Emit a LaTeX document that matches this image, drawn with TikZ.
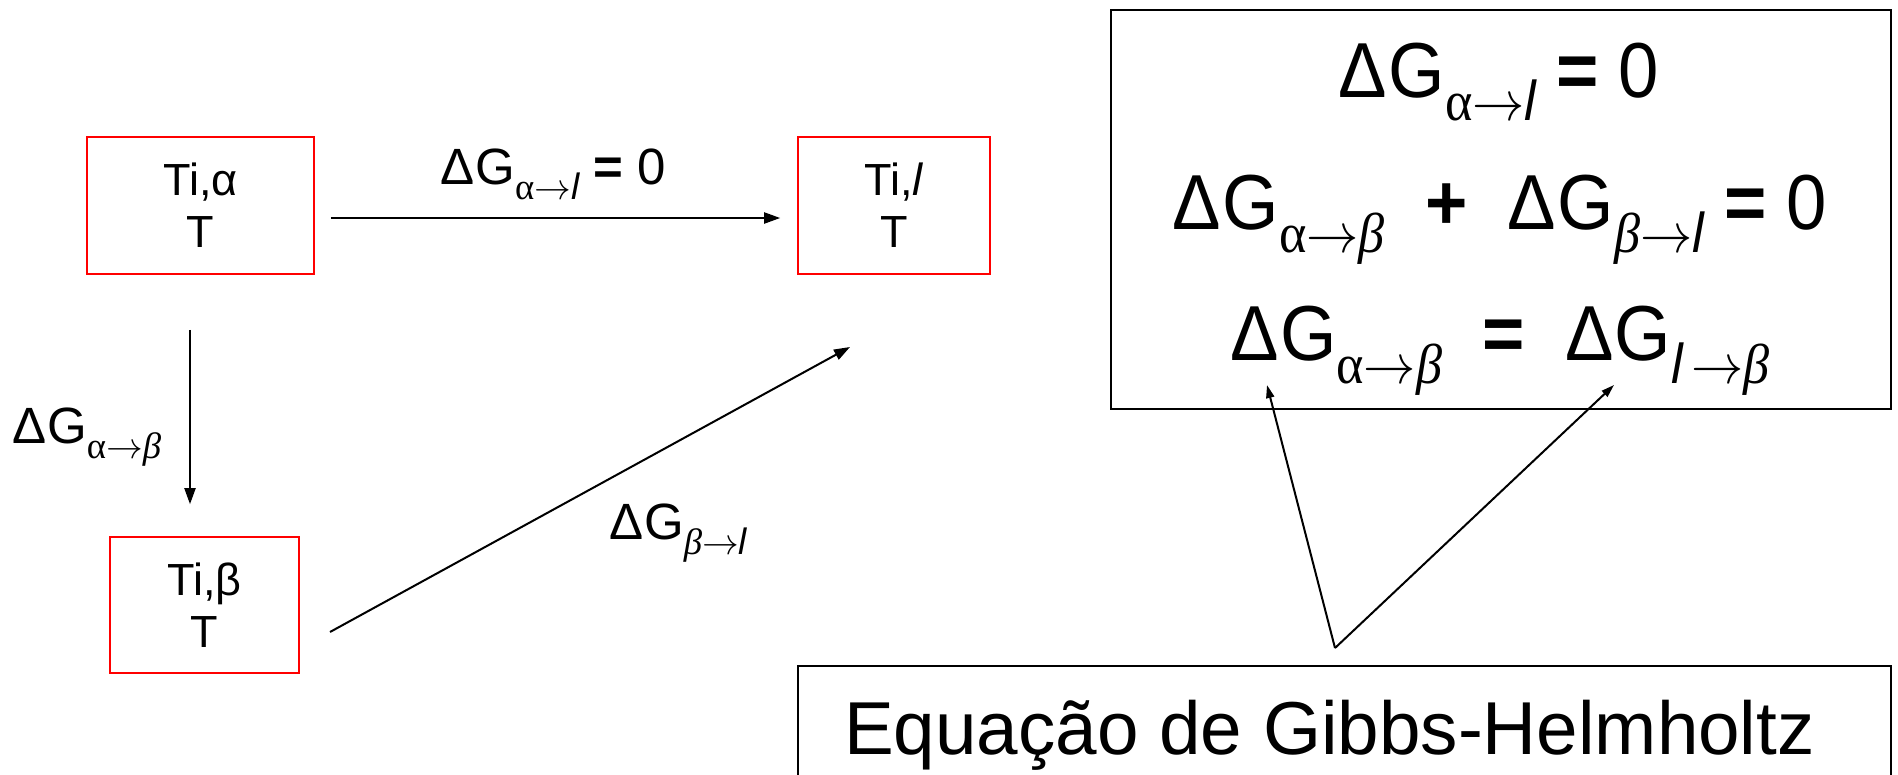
\RequirePackage{fix-cm}
\documentclass[tikz,border=0pt]{standalone}
\usepackage{fontspec}
\setmainfont{Liberation Sans}
\newfontfamily\srf{Liberation Serif}
\usetikzlibrary{arrows.meta,calc}
\newcommand\sA{{\srf α}}
\newcommand\sR{\ensuremath{\rightarrow}}
\newcommand\sB{{\srf\itshape β}}
\newcommand\sL{{\itshape l}}
\newcommand\dG[2]{Δ\kern0.02em G\raisebox{-0.3\dimexpr#1pt\relax}{\fontsize{\fpeval{0.72*#1}}{\fpeval{0.8*#1}}\selectfont #2}}
\newcommand\beq{\textbf{=}}
\newcommand\bplus{\textbf{+}}
\newcommand\cond[1]{\scalebox{0.93}[1]{#1}}
\tikzset{
  redbox/.style={draw={rgb,255:red,255;green,0;blue,0}, line width=1.6pt, align=center, inner sep=0pt,
    font=\fontsize{45}{52}\selectfont},
  conn/.style={line width=2pt, -{Triangle[length=16pt,width=11pt]}},
  gibbsarr/.style={line width=2pt, -{Triangle[length=13pt,width=8pt]}},
  lbl/.style={font=\fontsize{51}{58}\selectfont, inner sep=0pt},
  eq/.style={font=\fontsize{78}{88}\selectfont, inner sep=0pt, anchor=base},
  blackbox/.style={draw, line width=2pt},
}
\begin{document}
\begin{tikzpicture}[x=1pt,y=-1pt]
\clip (0,0) rectangle (1898,774);
\useasboundingbox (0,0) rectangle (1898,774);
% state boxes
\node[redbox, minimum width=227pt, minimum height=137pt] (a) at (200.5,205.5) {Ti,α\\T};
\node[redbox, minimum width=192pt, minimum height=137pt] (l) at (894,205.5) {Ti,\textit{l}\\T};
\node[redbox, minimum width=189pt, minimum height=136pt] (b) at (204.5,605) {Ti,β\\T};
% connectors
\draw[conn, shorten <=16pt, shorten >=17pt] ($(a.east)+(0,12.5)$) -- ($(l.west)+(0,12.5)$);
\draw[conn, shorten <=55pt, shorten >=32pt] ($(a.south)+(-10.5,0)$) -- ($(a.south |- b.north)+(-10.5,0)$);
\coordinate (d1) at (330,632);
\coordinate (d2) at (850,347);
\draw[conn] (d1) -- (d2);
% labels
\node[lbl, anchor=base] (lh) at (553,184) {\dG{51}{\sA\sR\sL} \beq{} 0};
\node[lbl, anchor=base west] (lv) at (12,443) {\dG{51}{\sA\sR\sB}};
\node[lbl, anchor=base west] (ld) at (609,539) {\dG{51}{\sB\sR\sL}};
% equation box
\node[blackbox, minimum width=780pt, minimum height=399pt] (eqbox) at (1501,209.5) {};
\node[eq] (eq1) at (1499,97) {\cond{\dG{78}{\sA\sR\sL} \beq{} 0}};
\node[eq] (eq2) at (1500,229) {\cond{\dG{78}{\sA\sR\sB}\ \ \bplus\ \ \dG{78}{\sB\sR\sL} \beq{} 0}};
\node[eq] (eq3) at (1500,360) {\cond{\dG{78}{\sA\sR\sB}\ \ \beq\ \ \dG{78}{\sL\,\sR\sB}}};
% Gibbs box
\node[blackbox, anchor=north, minimum width=1093pt, inner sep=0pt, text height=88pt, text depth=80pt,
  font=\fontsize{75}{85}\selectfont] (gibbs) at (1344.5,665) {\scalebox{0.995}[1]{Equação de Gibbs-Helmholtz}\hspace*{30pt}};
\coordinate (apex) at (1335,648);
\coordinate (tipA) at (1267,385);
\coordinate (tipB) at (1614,385);
\draw[gibbsarr] (apex) -- (tipA);
\draw[gibbsarr] (apex) -- (tipB);
\end{tikzpicture}
\end{document}
